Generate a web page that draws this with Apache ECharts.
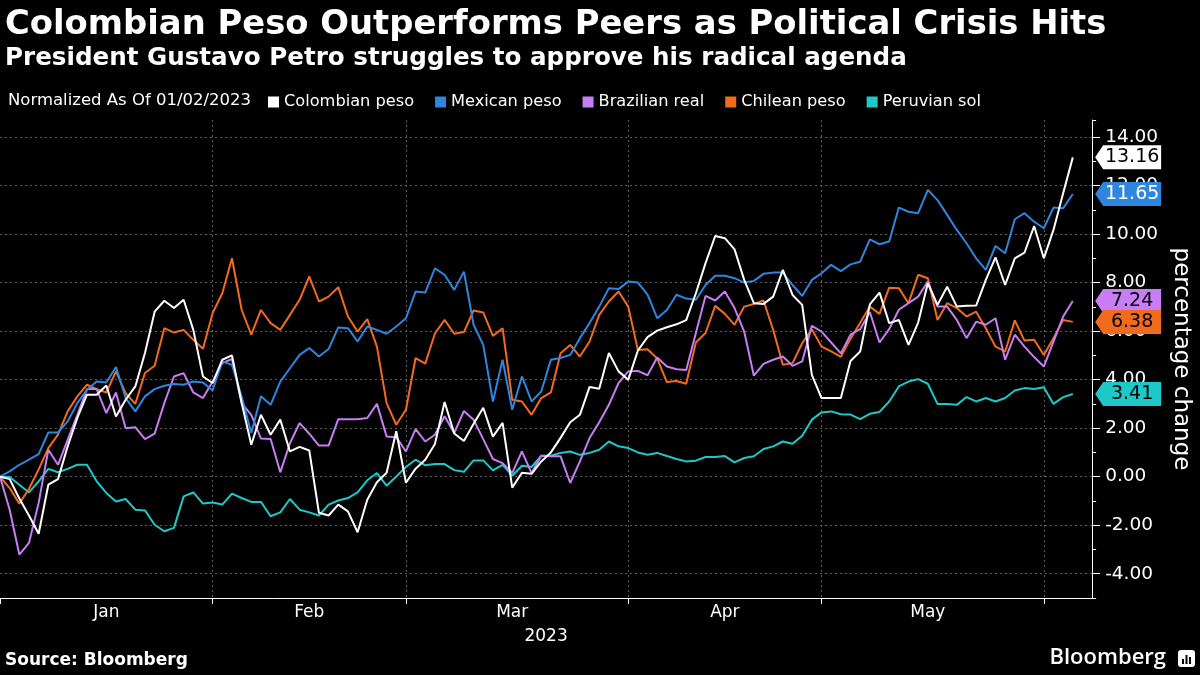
<!DOCTYPE html>
<html><head><meta charset="utf-8">
<script src="https://cdn.jsdelivr.net/npm/echarts@6/dist/echarts.min.js"></script>
<style>html,body{margin:0;padding:0;background:#000;}#c{width:1200px;height:675px;}</style>
</head><body><div id="c"></div>
<script>
// Trading days (categories); last two are empty padding to the axis end
const dates = [
'01/02','01/03','01/04','01/05','01/06','01/09','01/10','01/11','01/12','01/13','01/16','01/17','01/18','01/19','01/20','01/23','01/24','01/25','01/26','01/27','01/30','01/31',
'02/01','02/02','02/03','02/06','02/07','02/08','02/09','02/10','02/13','02/14','02/15','02/16','02/17','02/20','02/21','02/22','02/23','02/24','02/27','02/28',
'03/01','03/02','03/03','03/06','03/07','03/08','03/09','03/10','03/13','03/14','03/15','03/16','03/17','03/20','03/21','03/22','03/23','03/24','03/27','03/28','03/29','03/30','03/31',
'04/03','04/04','04/05','04/06','04/07','04/10','04/11','04/12','04/13','04/14','04/17','04/18','04/19','04/20','04/21','04/24','04/25','04/26','04/27','04/28',
'05/01','05/02','05/03','05/04','05/05','05/08','05/09','05/10','05/11','05/12','05/15','05/16','05/17','05/18','05/19','05/22','05/23','05/24','05/25','05/26','05/29','05/30','05/31',
'06/01','06/02','06/05','06/06','06/07','06/08'];
const monthLabels = ['Jan','Feb','Mar','Apr','May'];
const monthLabelDates = ['01/17','02/15','03/16','04/17','05/16'];
const yTickValues = [-4,-2,0,2,4,6,8,10,12,14];
const seriesNames = ['Colombian peso','Mexican peso','Brazilian real','Chilean peso','Peruvian sol'];
const seriesColors = ['#ffffff','#2e86de','#c77df3','#f26b1d','#1fc8c8'];
const labelTextColors = ['#000000','#ffffff','#000000','#000000','#000000'];

const colombianPeso = [0,-0.1,-0.9,-1.6,-2.35,-0.33,-0.1,1.25,2.42,3.38,3.38,3.76,2.48,3.17,3.72,5.1,6.8,7.25,6.95,7.29,6.05,4.13,
3.86,4.82,5.0,3.05,1.32,2.55,1.73,2.35,1.04,1.23,1.08,-1.49,-1.6,-1.15,-1.43,-2.29,-0.95,-0.23,0.16,1.87,
-0.25,0.33,0.7,1.35,3.08,1.78,1.47,2.18,2.84,1.65,2.22,-0.45,0.16,0.12,0.63,1.0,1.6,2.24,2.55,3.7,3.62,5.1,4.34,
3.99,5.2,5.75,6.02,6.16,6.28,6.45,7.56,8.8,9.92,9.83,9.37,8.11,7.15,7.12,7.42,8.52,7.49,7.08,4.2,
3.24,3.24,3.24,4.77,5.16,7.1,7.59,6.33,6.46,5.43,6.35,7.97,7.08,7.83,7.01,7.04,7.05,8.11,9.04,7.9,9.0,9.23,10.33,
9.0,10.17,11.68,13.16];
const mexicanPeso = [0,0.22,0.49,0.7,0.93,1.82,1.82,2.28,3.03,3.58,3.92,3.88,4.52,3.24,2.69,3.31,3.61,3.75,3.82,3.79,3.92,3.88,
3.55,4.75,4.61,3.3,1.8,3.31,2.96,3.92,4.47,5.02,5.3,4.95,5.26,6.15,6.12,5.57,6.19,6.05,5.89,6.19,
6.53,7.63,7.59,8.59,8.32,7.7,8.45,6.26,5.43,3.1,4.82,2.76,4.13,3.1,3.51,4.82,4.89,5.02,5.71,6.33,7.01,7.77,7.73,
8.04,8.0,7.5,6.53,6.87,7.5,7.34,7.29,7.9,8.28,8.28,8.18,8.0,8.07,8.36,8.41,8.41,7.9,7.45,8.11,
8.38,8.73,8.47,8.75,8.86,9.78,9.58,9.69,11.09,10.92,10.86,11.82,11.4,10.79,10.17,9.62,9.0,8.52,9.51,9.21,10.61,10.86,10.51,
10.24,11.09,11.06,11.65];
const brazilianReal = [0,-1.36,-3.21,-2.73,-1.08,1.11,0.49,1.52,2.55,3.61,3.61,2.62,3.47,2.0,2.04,1.55,1.77,3.03,4.13,4.27,3.47,3.24,
3.92,4.68,4.85,3.03,2.55,1.57,1.55,0.18,1.38,2.21,1.77,1.28,1.28,2.37,2.37,2.37,2.42,3.0,1.66,1.63,
1.04,1.96,1.45,1.73,2.49,1.8,2.71,2.35,1.55,0.73,0.56,0.15,1.04,0.15,0.86,0.84,0.84,-0.26,0.63,1.59,2.24,2.96,3.86,
4.34,4.36,4.18,4.91,4.54,4.43,4.4,5.92,7.45,7.26,7.63,6.95,5.98,4.16,4.65,4.82,4.95,4.57,4.75,6.22,
5.98,5.53,5.08,5.85,6.08,6.79,5.53,6.08,6.88,7.15,7.42,8.04,7.01,7.01,6.46,5.71,6.39,6.26,6.53,4.82,5.85,5.36,4.93,
4.54,5.57,6.6,7.24];
const chileanPeso = [0,-0.47,-1.11,-0.5,0.3,1.18,1.73,2.69,3.31,3.79,3.61,3.47,4.34,3.44,3.0,4.27,4.57,6.12,5.94,6.05,5.64,5.27,
6.74,7.56,9.0,6.88,5.85,6.87,6.33,6.05,6.67,7.29,8.25,7.22,7.42,7.81,6.6,5.98,6.49,5.36,3.03,2.14,
2.76,4.89,4.66,5.9,6.46,5.89,5.96,6.85,6.77,5.8,6.12,3.17,3.1,2.55,3.24,3.47,5.09,5.43,4.95,5.57,6.67,7.22,7.63,
7.01,5.22,5.25,4.87,3.9,3.94,3.83,5.53,5.92,7.04,6.71,6.26,7.01,7.12,7.26,6.05,4.61,4.68,5.5,6.08,
5.36,5.16,4.94,5.68,6.34,7.01,6.71,7.79,7.77,7.15,8.32,8.18,6.46,7.15,6.95,6.6,6.8,6.12,5.36,5.16,6.44,5.61,5.64,
5.02,5.71,6.46,6.38];
const peruvianSol = [0,-0.01,-0.33,-0.65,-0.19,0.32,0.18,0.32,0.49,0.49,-0.19,-0.67,-1.02,-0.92,-1.36,-1.39,-1.98,-2.25,-2.11,-0.81,-0.65,-1.11,
-1.06,-1.15,-0.7,-0.88,-1.04,-1.04,-1.63,-1.47,-0.92,-1.36,-1.47,-1.6,-1.15,-0.98,-0.88,-0.65,-0.15,0.15,-0.37,0.01,
0.4,0.7,0.47,0.52,0.52,0.27,0.2,0.67,0.67,0.26,0.49,0.04,0.45,0.4,0.86,0.86,0.98,1.04,0.9,0.98,1.11,1.45,1.25,
1.18,1.0,0.9,0.98,0.85,0.73,0.63,0.66,0.81,0.81,0.85,0.59,0.77,0.84,1.14,1.25,1.45,1.36,1.69,2.35,
2.65,2.69,2.57,2.56,2.37,2.59,2.67,3.1,3.72,3.92,4.02,3.83,3.0,3.0,2.96,3.28,3.1,3.24,3.1,3.24,3.55,3.65,3.61,
3.69,3.0,3.28,3.41];
const seriesValues = [colombianPeso, mexicanPeso, brazilianReal, chileanPeso, peruvianSol];

const FONT = '"DejaVu Sans", sans-serif';
const TFONT = '"DejaVu Sans", sans-serif';
const isMonthStart = (i) => i === 0 || dates[i].slice(0,2) !== dates[i-1].slice(0,2);
const gridColor = '#5e5e5e';

const series = seriesNames.map((name, k) => {
  const vals = seriesValues[k];
  const last = vals[vals.length - 1];
  return {
    name, type: 'line', data: vals, yAxisIndex: 0,
    symbol: 'none', smooth: false,
    z: 10 - k,
    lineStyle: { width: 2, color: seriesColors[k] },
    itemStyle: { color: seriesColors[k] },
    emphasis: { disabled: true },
    markPoint: {
      silent: true,
      symbol: 'path://M0,12 L8,0 L66,0 L66,24 L8,24 Z',
      symbolSize: [66, 24],
      symbolOffset: [36, 0],
      itemStyle: { color: seriesColors[k] },
      label: { show: true, position: 'inside', offset: [4, 0], color: labelTextColors[k],
               fontSize: 19, fontFamily: FONT, formatter: (p) => p.value.toFixed(2) },
      data: [{ coord: [dates[dates.length - 1], last], value: last }]
    }
  };
});

const chart = echarts.init(document.getElementById('c'), null, { renderer: 'canvas' });
chart.setOption({
  backgroundColor: '#000000',
  animation: false,
  grid: { left: 0, right: 100, top: 120, bottom: 77, containLabel: false },
  legend: {
    left: 268, top: 94, padding: 0, itemWidth: 11, itemHeight: 11, itemGap: 21, icon: 'rect',
    selectedMode: false, data: seriesNames,
    textStyle: { color: '#ffffff', fontSize: 16.2, fontFamily: FONT }
  },
  graphic: [
    { type: 'text', x: 5, y: 25, style: { text: 'Colombian Peso Outperforms Peers as Political Crisis Hits', fill: '#fff', font: 'bold 33.8px ' + TFONT, textVerticalAlign: 'middle' } },
    { type: 'text', x: 5, y: 59, style: { text: 'President Gustavo Petro struggles to approve his radical agenda', fill: '#fff', font: 'bold 24.6px ' + TFONT, textVerticalAlign: 'middle' } },
    { type: 'text', x: 8, y: 101, style: { text: 'Normalized As Of 01/02/2023', fill: '#fff', font: '16.5px ' + FONT, textVerticalAlign: 'middle' } },
    { type: 'text', x: 5, y: 661, style: { text: 'Source: Bloomberg', fill: '#fff', font: 'bold 17px ' + TFONT, textVerticalAlign: 'middle' } },
    { type: 'text', x: 1166, y: 658, style: { text: 'Bloomberg', fill: '#fff', font: '600 22px "Open Sans", sans-serif', textAlign: 'right', textVerticalAlign: 'middle' } },
    { type: 'rect', shape: { x: 1178, y: 650, width: 17, height: 17, r: 3 }, style: { fill: '#fff' } },
    { type: 'rect', shape: { x: 1182, y: 659, width: 2, height: 5 }, style: { fill: '#000' } },
    { type: 'rect', shape: { x: 1185.5, y: 655, width: 2, height: 9 }, style: { fill: '#000' } },
    { type: 'rect', shape: { x: 1189, y: 657, width: 2, height: 7 }, style: { fill: '#000' } }
  ],
  xAxis: {
    type: 'category', data: dates, boundaryGap: false,
    axisLine: { show: true, onZero: false, lineStyle: { color: '#ffffff', width: 1 } },
    axisTick: { show: true, interval: (i) => isMonthStart(i), length: 6, lineStyle: { color: '#ffffff' } },
    axisLabel: { interval: (i, v) => monthLabelDates.includes(v),
                 formatter: (v) => monthLabels[monthLabelDates.indexOf(v)] || '',
                 color: '#ffffff', fontSize: 17, fontFamily: FONT, margin: 6 },
    splitLine: { show: true, interval: (i) => i > 0 && isMonthStart(i), lineStyle: { color: gridColor, type: [2, 3], width: 1 } },
    name: '2023', nameLocation: 'middle', nameGap: 30,
    nameTextStyle: { color: '#ffffff', fontSize: 17, fontFamily: FONT }
  },
  yAxis: [
    {
      type: 'value', position: 'right', min: -5, max: 14.7,
      axisLine: { show: true, lineStyle: { color: '#ffffff', width: 1 } },
      axisTick: { show: true, customValues: yTickValues, length: 8, lineStyle: { color: '#ffffff' } },
      axisLabel: { show: true, customValues: yTickValues, formatter: (v) => v.toFixed(2), color: '#ffffff', fontSize: 18.5, fontFamily: FONT, margin: 13 },
      splitLine: { show: true, lineStyle: { color: gridColor, type: [2, 3], width: 1 } },
      name: 'percentage change', nameLocation: 'middle', nameRotate: -90, nameGap: 72,
      nameTextStyle: { color: '#ffffff', fontSize: 23, fontFamily: FONT }
    },
    {
      type: 'value', position: 'right', min: -5, max: 14.7, interval: 1,
      axisLine: { show: false },
      axisTick: { show: true, length: 4, lineStyle: { color: '#ffffff' } },
      axisLabel: { show: false },
      splitLine: { show: false }
    }
  ],
  series
});
</script>
</body></html>
